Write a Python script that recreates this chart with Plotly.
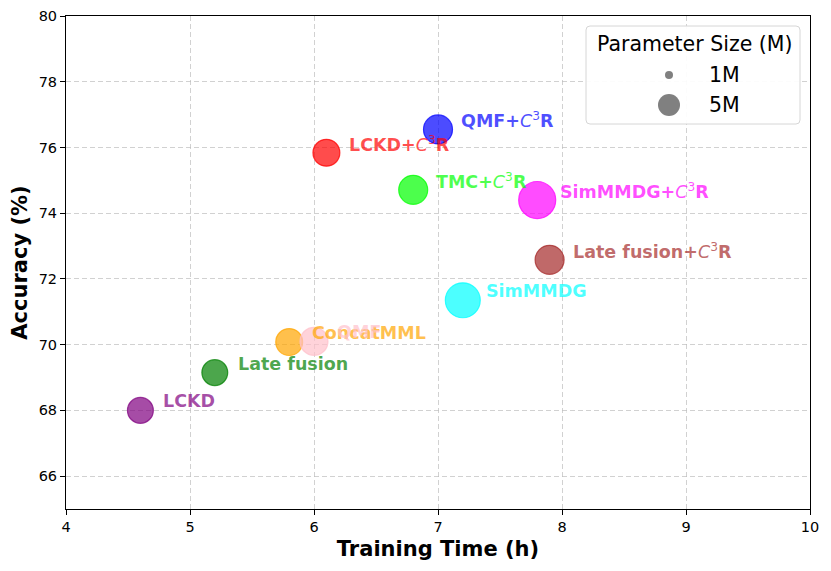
import plotly.graph_objects as go

# ---- data ----
methods = ["LCKD", "Late fusion", "ConcatMML", "QMF", "SimMMDG",
           "Late fusion+C3R", "SimMMDG+C3R", "TMC+C3R", "LCKD+C3R", "QMF+C3R"]
train_time = [4.6, 5.2, 5.8, 6.0, 7.2, 7.9, 7.8, 6.8, 6.1, 7.0]
accuracy = [68.0, 69.15, 70.08, 70.1, 71.35, 72.58, 74.4, 74.71, 75.84, 76.55]
param_m = [6.1, 6.1, 6.4, 6.7, 8.7, 7.0, 9.3, 7.0, 6.4, 7.0]
colors = ["128,0,128", "0,128,0", "255,165,0", "255,192,203", "0,255,255",
          "165,42,42", "255,0,255", "0,255,0", "255,0,0", "0,0,255"]
legend_sizes = [1, 5]
legend_labels = ["1M", "5M"]
x_ticks = [4, 5, 6, 7, 8, 9, 10]
y_ticks = [66, 68, 70, 72, 74, 76, 78, 80]


def diam(p):
    return 4.5 + 3.5 * p


def label_html(name):
    if name.endswith("+C3R"):
        base = name[:-3]
        return (base + "<span style='font-weight:normal'><i>C</i><sup>3</sup></span>R")
    return name


FONT = "DejaVu Sans"
OFF = 8  # browser default body margin
W, H = 831 - 2 * OFF, 571 - 2 * OFF
ML, MT = 66 - OFF, 16 - OFF
MR = (W + OFF) - 810
MB = (H + OFF) - 509
PW, PH = W - ML - MR, H - MT - MB
PX0, PY0 = ML + OFF, MT + OFF  # plot origin in page pixels

fig = go.Figure()
fig.add_trace(go.Scatter(
    x=train_time, y=accuracy, mode="markers",
    marker=dict(size=[diam(p) for p in param_m],
                color=[f"rgba({c},0.7)" for c in colors],
                opacity=1,
                line=dict(width=1.2, color=[f"rgba({c},0.75)" for c in colors])),
    showlegend=False, hoverinfo="skip"))

annotations = []
for name, x, y, c in zip(methods, train_time, accuracy, colors):
    annotations.append(dict(
        x=x, y=y, xref="x", yref="y", text="<b>" + label_html(name) + "</b>",
        showarrow=False, xanchor="left", yanchor="middle", xshift=21, yshift=9,
        font=dict(family=FONT, size=17.5, color=f"rgba({c},0.7)")))


def px_x(px):
    return (px - PX0) / PW


def px_y(py):
    return 1 - (py - PY0) / PH


shapes = []
bx0, bx1, by0, by1 = px_x(586), px_x(800), px_y(124), px_y(26)
rx, ry = 4 / PW, 4 / PH
path = (f"M {bx0+rx},{by1} L {bx1-rx},{by1} Q {bx1},{by1} {bx1},{by1-ry} "
        f"L {bx1},{by0+ry} Q {bx1},{by0} {bx1-rx},{by0} L {bx0+rx},{by0} "
        f"Q {bx0},{by0} {bx0},{by0+ry} L {bx0},{by1-ry} Q {bx0},{by1} {bx0+rx},{by1} Z")
shapes.append(dict(type="path", path=path, xref="paper", yref="paper",
                   fillcolor="rgba(255,255,255,0.92)",
                   line=dict(color="#d6d6d6", width=1), layer="above"))
annotations.append(dict(x=px_x(694), y=px_y(44), xref="paper", yref="paper",
                        text="Parameter Size (M)", showarrow=False,
                        xanchor="center", yanchor="middle",
                        font=dict(family=FONT, size=20.5, color="black")))
for i, (s, lab) in enumerate(zip(legend_sizes, legend_labels)):
    cy = px_y(75 + 30 * i)
    d = diam(s)
    shapes.append(dict(type="circle", xref="paper", yref="paper",
                       xsizemode="pixel", ysizemode="pixel",
                       xanchor=px_x(669), yanchor=cy,
                       x0=-d / 2, x1=d / 2, y0=-d / 2, y1=d / 2,
                       fillcolor="gray", line=dict(width=0), layer="above"))
    annotations.append(dict(x=px_x(707), y=cy, xref="paper", yref="paper",
                            text=lab, showarrow=False, xanchor="left",
                            yanchor="middle",
                            font=dict(family=FONT, size=20.5, color="black")))

axis_common = dict(showline=True, mirror=True, linecolor="black", linewidth=1,
                   ticks="outside", ticklen=5, tickcolor="black",
                   showgrid=True, gridcolor="rgba(190,190,190,0.7)",
                   griddash="5px,3px", gridwidth=1, zeroline=False,
                   automargin=False,
                   tickfont=dict(family=FONT, size=14.5, color="black"))

fig.update_layout(
    width=W, height=H, margin=dict(l=ML, r=MR, t=MT, b=MB, autoexpand=False),
    plot_bgcolor="white", paper_bgcolor="white",
    xaxis=dict(range=[4, 10], tickvals=x_ticks,
               title=dict(text="<b>Training Time (h)</b>", standoff=6,
                          font=dict(family=FONT, size=21, color="black")),
               **axis_common),
    yaxis=dict(range=[65, 80], tickvals=y_ticks,
               title=dict(text="<b>Accuracy (%)</b>", standoff=8,
                          font=dict(family=FONT, size=21, color="black")),
               **axis_common),
    annotations=annotations, shapes=shapes,
)

fig.write_html("out.html")
